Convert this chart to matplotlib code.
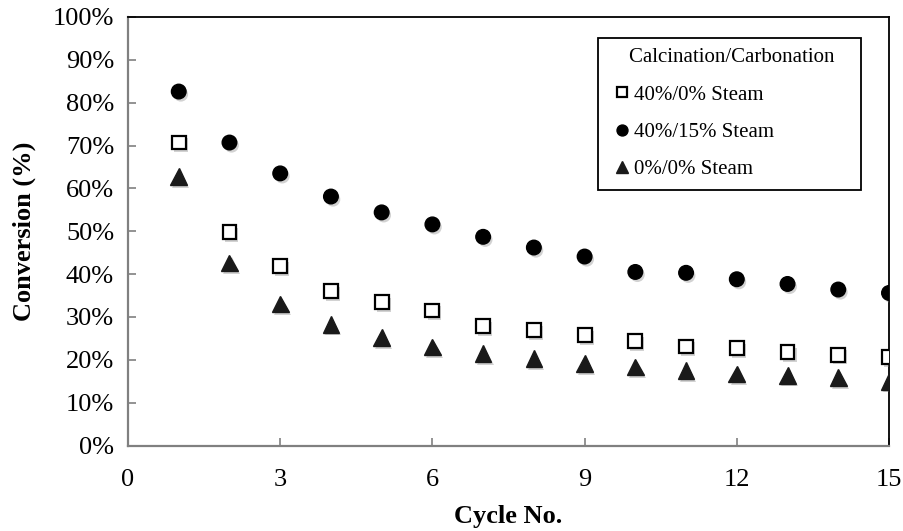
import matplotlib
matplotlib.use("Agg")
import matplotlib.pyplot as plt
import matplotlib.patheffects as pe
from matplotlib.ticker import PercentFormatter, FixedLocator

cycles = list(range(1, 16))
steam_40_0 = [70.7, 49.8, 41.8, 36.0, 33.4, 31.5, 27.9, 26.9, 25.7, 24.3, 23.1, 22.8, 21.8, 21.2, 20.7]
steam_40_15 = [82.6, 70.7, 63.5, 58.1, 54.4, 51.6, 48.7, 46.2, 44.1, 40.5, 40.3, 38.8, 37.7, 36.4, 35.6]
steam_0_0 = [62.8, 42.6, 33.0, 28.3, 25.2, 23.0, 21.4, 20.3, 19.1, 18.3, 17.5, 16.7, 16.4, 15.8, 15.0]
labels = ["40%/0% Steam", "40%/15% Steam", "0%/0% Steam"]
legend_title = "Calcination/Carbonation"
x_ticks = [0, 3, 6, 9, 12, 15]

plt.rcParams["font.family"] = ["Liberation Serif", "DejaVu Serif"]

fig = plt.figure(figsize=(9.04, 5.31), dpi=100)
ax = fig.add_axes([0.1416, 0.161, 0.8418, 0.807])

shadow = [pe.SimplePatchShadow(offset=(1.5, -2), shadow_rgbFace="0.5", alpha=0.35), pe.Normal()]

h1, = ax.plot(cycles, [v / 100 for v in steam_40_0], linestyle="none", marker="s",
              markersize=10, markerfacecolor="white", markeredgecolor="black",
              markeredgewidth=1.6, label=labels[0], zorder=3)
h2, = ax.plot(cycles, [v / 100 for v in steam_40_15], linestyle="none", marker="o",
              markersize=10.5, markerfacecolor="black", markeredgecolor="black",
              label=labels[1], zorder=3)
h3, = ax.plot(cycles, [v / 100 for v in steam_0_0], linestyle="none", marker="^",
              markersize=12, markerfacecolor="#1a1a1a", markeredgecolor="#1a1a1a",
              label=labels[2], zorder=3)
for h in (h1, h2, h3):
    h.set_path_effects(shadow)

ax.set_xlim(0, 15)
ax.set_ylim(0, 1.0)
ax.xaxis.set_major_locator(FixedLocator(x_ticks))
ax.yaxis.set_major_locator(FixedLocator([i / 10 for i in range(11)]))
ax.yaxis.set_major_formatter(PercentFormatter(1.0, decimals=0))

ax.tick_params(axis="both", direction="in", length=6, width=1.2, color="#808080",
               labelsize=19, pad=10)
ax.tick_params(axis="x", pad=17)

for side in ("left", "bottom"):
    ax.spines[side].set_color("#808080")
    ax.spines[side].set_linewidth(1.6)
for side in ("top", "right"):
    ax.spines[side].set_color("black")
    ax.spines[side].set_linewidth(1.3)

ax.set_ylabel("Conversion (%)", fontsize=19, fontweight="bold", labelpad=12)
ax.set_xlabel("Cycle No.", fontsize=19, fontweight="bold", labelpad=10)

# title is indented relative to the marker column
leg = ax.legend(handles=[h1, h2, h3], title="    " + legend_title + "   ",
                loc="upper right", bbox_to_anchor=(0.963, 0.951), borderaxespad=0,
                fontsize=15, title_fontsize=15,
                frameon=True, fancybox=False, edgecolor="black", framealpha=1,
                handlelength=1.35, handletextpad=-0.1, borderpad=0.5,
                labelspacing=0.85, markerscale=0.75, alignment="left")
leg.get_frame().set_linewidth(1.3)
for lh in leg.legend_handles:
    lh.set_path_effects([])

fig.savefig("out.png", dpi=100)
